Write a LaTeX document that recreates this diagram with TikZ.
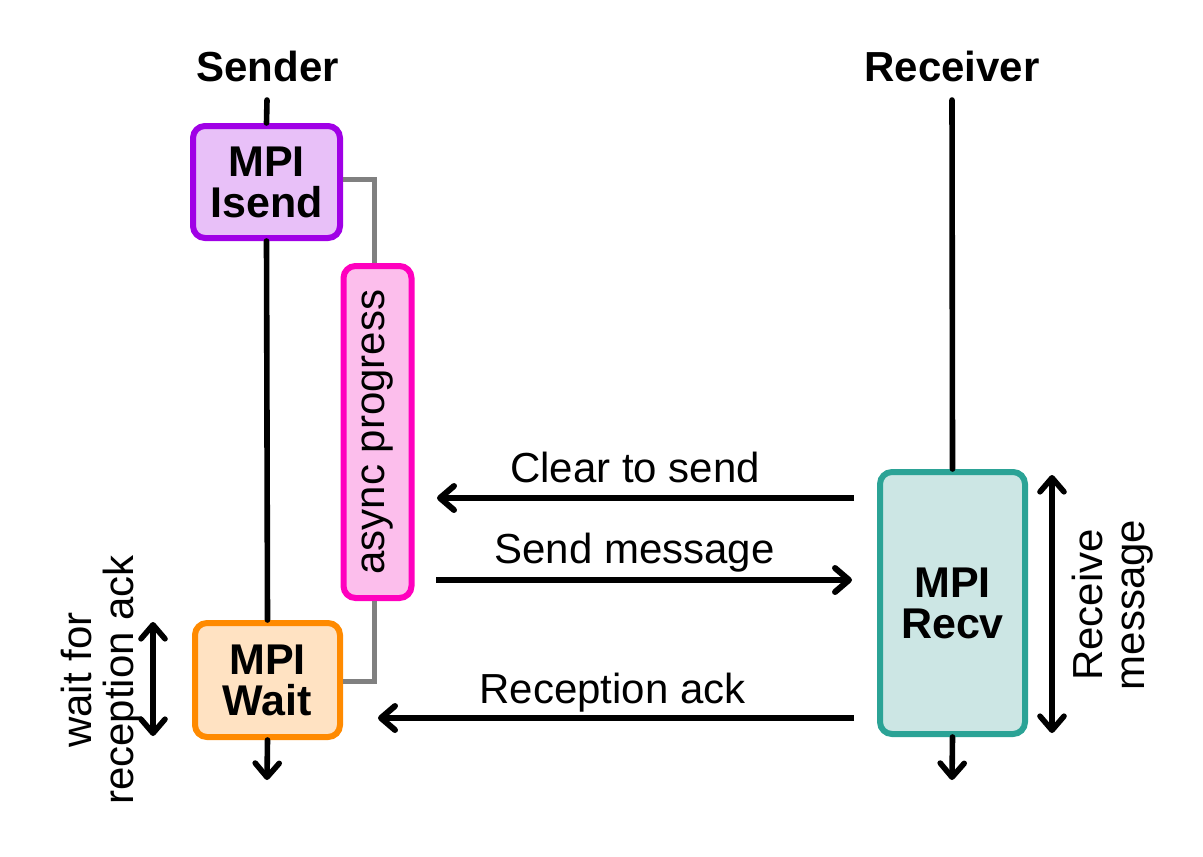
\documentclass[tikz,border=0pt]{standalone}
\usepackage{fontspec}
\setmainfont{Liberation Sans}
\usetikzlibrary{arrows.meta,calc}
\definecolor{isendfill}{RGB}{232,192,248}
\definecolor{isenddraw}{RGB}{160,0,230}
\definecolor{asyncfill}{RGB}{252,190,236}
\definecolor{asyncdraw}{RGB}{255,0,190}
\definecolor{waitfill}{RGB}{255,226,194}
\definecolor{waitdraw}{RGB}{255,138,0}
\definecolor{recvfill}{RGB}{204,230,228}
\definecolor{recvdraw}{RGB}{43,163,150}
\definecolor{linkgray}{RGB}{128,128,128}
\tikzset{
  mytip/.tip={Straight Barb[length=7pt,width=12pt,round]},
  lbl/.style={font=\fontsize{21}{21}\selectfont, inner sep=0pt},
  titlelbl/.style={font=\fontsize{21}{21}\selectfont\bfseries, inner sep=0pt},
  box/.style={line width=3pt, rounded corners=6pt, align=center, inner sep=0pt,
    font=\fontsize{21.5}{20.5}\selectfont\bfseries},
  life/.style={line width=2.8pt, line cap=round},
  msg/.style={line width=3pt, -mytip},
  link/.style={draw=linkgray, line width=2.5pt},
}
\begin{document}
\begin{tikzpicture}[x=0.5pt,y=-0.5pt]
\useasboundingbox (0,0) rectangle (1203,856);
% titles
\node[titlelbl, anchor=base] (sender) at (267.5,82) {Sender};
\node[titlelbl, anchor=base] (receiver) at (952,82) {Receiver};
% boxes
\node[box, fill=isendfill, draw=isenddraw, minimum width=73.5pt, minimum height=56pt] (isend) at (266.5,182) {MPI\\Isend};
\node[box, fill=asyncfill, draw=asyncdraw, rotate=90, minimum width=166pt, minimum height=34pt,
  font=\fontsize{21}{21}\selectfont] (async) at (377.5,432) {async progress};
\node[box, fill=waitfill, draw=waitdraw, minimum width=72.5pt, minimum height=57pt] (wait) at (267.5,680) {MPI\\Wait};
\node[box, fill=recvfill, draw=recvdraw, minimum width=72.5pt, minimum height=131pt] (recv) at (952.5,603) {MPI\\Recv};
% lifelines
\coordinate (stop) at (267,100);
\coordinate (rtop) at (952,100);
\coordinate (send) at (267,780);
\coordinate (rend) at (952,780);
\draw[life] (stop) -- (isend.north);
\draw[life] (isend.south) -- (wait.north);
\draw[life, -mytip] (wait.south) -- (send);
\draw[life] (rtop) -- (recv.north);
\draw[life, -mytip] (recv.south) -- (rend);
% gray links (rotated node: east = top, west = bottom)
\coordinate (g1) at (374,179);
\coordinate (g2) at (374,681);
\draw[link] (isend.east |- g1) -- (g1) -- (g1 |- async.east);
\draw[link] (g2 |- async.west) -- (g2) -- (wait.east |- g2);
% messages
\coordinate (m1) at (0,498);
\coordinate (m2) at (0,580);
\coordinate (m3) at (0,718);
\draw[msg] ($(recv.west |- m1)+(-23,0)$) -- ($(async.south |- m1)+(22.5,0)$);
\draw[msg] ($(async.south |- m2)+(21.5,0)$) -- ($(recv.west |- m2)+(-25,0)$);
\draw[msg] ($(recv.west |- m3)+(-23,0)$) -- ($(wait.east |- m3)+(35,0)$);
\node[lbl, anchor=base] (lcts) at (635,482) {Clear to send};
\node[lbl, anchor=base] (lsend) at (634.5,563) {Send message};
\node[lbl, anchor=base] (lack) at (612.5,703) {Reception ack};
% duration arrows
\coordinate (wa1) at (153,622);
\coordinate (wa2) at (153,736);
\draw[life, mytip-mytip] (wa1) -- (wa2);
\coordinate (ra1) at (1052,475);
\coordinate (ra2) at (1052,733);
\draw[life, mytip-mytip] (ra1) -- (ra2);
\node[lbl, rotate=90, align=center] (lwait) at (102,680) {wait for\\reception ack};
\node[lbl, rotate=90, align=center] (lrecv) at (1113,605) {Receive\\message};
\end{tikzpicture}
\end{document}
